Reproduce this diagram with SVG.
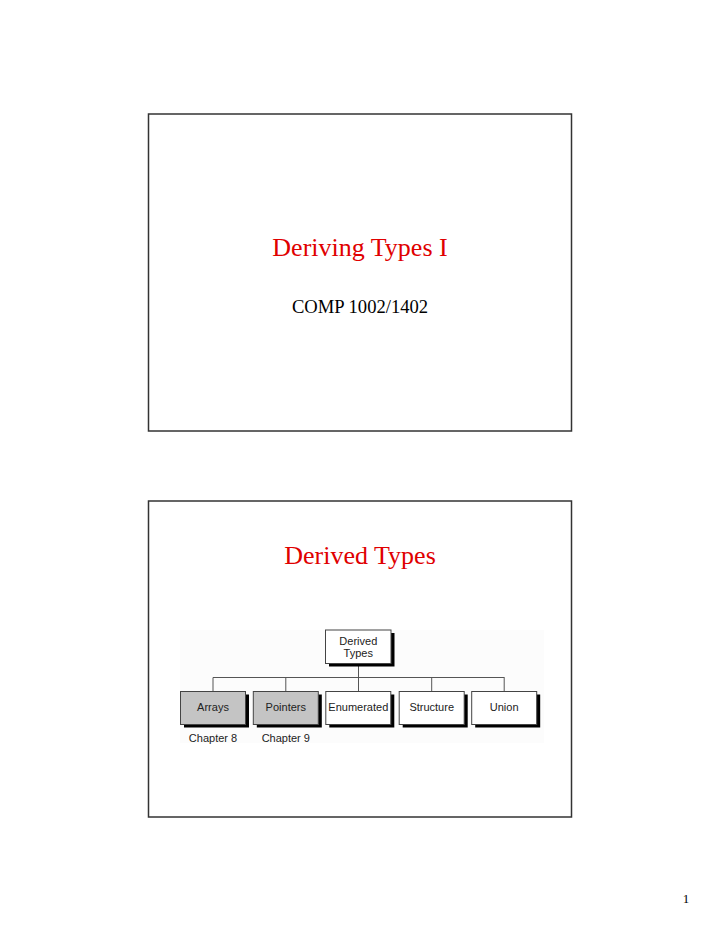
<svg xmlns="http://www.w3.org/2000/svg" width="720" height="932" viewBox="0 0 720 932">
<style>
.frame{fill:#fff;stroke:#333;stroke-width:1.5}
.title{font-family:"Liberation Serif","Times New Roman",serif;font-size:26px;fill:#e00000;text-anchor:middle}
.sub{font-family:"Liberation Serif","Times New Roman",serif;font-size:18.6px;fill:#000;text-anchor:middle}
.box{stroke:#444;stroke-width:1}
.shadow{fill:#000}
.lbl{font-family:"Liberation Sans",Arial,sans-serif;font-size:11px;fill:#222;text-anchor:middle}
.conn{fill:none;stroke:#555;stroke-width:1}
</style>
<rect width="720" height="932" fill="#fff"/>
<g id="slide1">
<rect class="frame" x="148.5" y="114" width="423" height="317"/>
<text class="title" x="360" y="256">Deriving Types I</text>
<text class="sub" x="360" y="313">COMP 1002/1402</text>
</g>
<g id="slide2">
<rect class="frame" x="148.5" y="501" width="423" height="316"/>
<text class="title" x="360" y="564">Derived Types</text>
<rect x="180" y="630" width="364" height="113" fill="#fcfcfc"/>
</g>
<g id="connectors">
<path class="conn" d="M358.5 664V677.5M213 677.5H504.5M213 677.5V691M285.8 677.5V691M358.5 677.5V691M431.7 677.5V691M504.2 677.5V691"/>
</g>
<g id="node-derived">
<rect class="shadow" x="329" y="633" width="65.5" height="33.5"/>
<rect class="box" x="325.5" y="630" width="65.5" height="33.5" fill="#fff"/>
<text class="lbl" x="358.3" y="645">Derived</text>
<text class="lbl" x="358.3" y="657">Types</text>
</g>
<g id="node-arrays">
<rect class="shadow" x="184" y="694.5" width="65" height="33"/>
<rect class="box" x="180.5" y="691.5" width="65" height="33" fill="#c4c4c4"/>
<text class="lbl" x="213" y="711">Arrays</text>
<text class="lbl" x="213" y="742">Chapter 8</text>
</g>
<g id="node-pointers">
<rect class="shadow" x="256.8" y="694.5" width="65" height="33"/>
<rect class="box" x="253.3" y="691.5" width="65" height="33" fill="#c4c4c4"/>
<text class="lbl" x="285.8" y="711">Pointers</text>
<text class="lbl" x="285.8" y="742">Chapter 9</text>
</g>
<g id="node-enumerated">
<rect class="shadow" x="329.3" y="694.5" width="65" height="33"/>
<rect class="box" x="325.8" y="691.5" width="65" height="33" fill="#fff"/>
<text class="lbl" x="358.3" y="711">Enumerated</text>
</g>
<g id="node-structure">
<rect class="shadow" x="402.7" y="694.5" width="65" height="33"/>
<rect class="box" x="399.2" y="691.5" width="65" height="33" fill="#fff"/>
<text class="lbl" x="431.7" y="711">Structure</text>
</g>
<g id="node-union">
<rect class="shadow" x="475.2" y="694.5" width="65" height="33"/>
<rect class="box" x="471.7" y="691.5" width="65" height="33" fill="#fff"/>
<text class="lbl" x="504.2" y="711">Union</text>
</g>
<text x="686" y="903" font-family="'Liberation Serif','Times New Roman',serif" font-size="13" fill="#000" text-anchor="middle">1</text>
</svg>
